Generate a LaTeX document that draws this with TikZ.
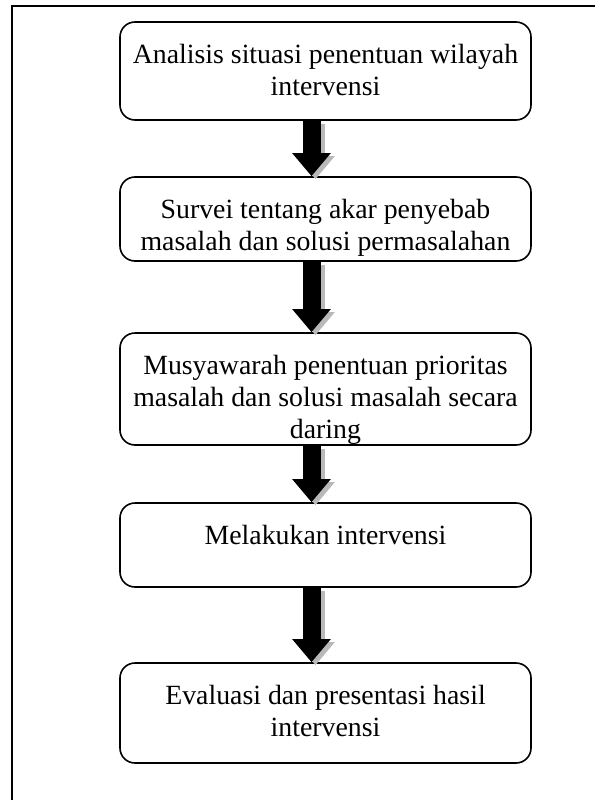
\documentclass[tikz,border=0pt]{standalone}
\usepackage{fontspec}
\setmainfont{Liberation Serif}
\usetikzlibrary{arrows.meta, positioning}

\tikzset{
	stepbox/.style={draw, line width=1.6pt, rounded corners=15pt,
		minimum width=411pt, inner sep=0pt},
	boxtext/.style={align=center, inner sep=0pt, font=\fontsize{27.8}{32}\selectfont},
	blockarrow/.style={line width=18pt, -{Triangle[width=37pt,length=23pt]}},
	shadowarrow/.style={blockarrow, gray!55}
}

\begin{document}
\begin{tikzpicture}[x=1pt, y=-1pt]
	% page
	\useasboundingbox (0,0) rectangle (595,800);
	\draw[line width=2pt] (595,6) -| (12,800);
	
	% kotak
	\node[stepbox, minimum height=98pt] (analisis) at (325.5,71) {};
	\node[stepbox, minimum height=84pt] (survei) at (325.5,219) {};
	\node[stepbox, minimum height=112pt] (musyawarah) at (325.5,389) {};
	\node[stepbox, minimum height=84pt] (intervensi) at (325.5,545) {};
	\node[stepbox, minimum height=100pt] (evaluasi) at (325.5,713) {};
	
	% teks
	\node[boxtext, below=22.5pt of analisis.north] (analisis-teks)
		{Analisis situasi penentuan wilayah\\intervensi};
	\node[boxtext, below=22.5pt of survei.north] (survei-teks)
		{Survei tentang akar penyebab\\masalah dan solusi permasalahan};
	\node[boxtext, below=22.5pt of musyawarah.north] (musyawarah-teks)
		{Musyawarah penentuan prioritas\\masalah dan solusi masalah secara\\daring};
	\node[boxtext, below=22.5pt of intervensi.north] (intervensi-teks)
		{Melakukan intervensi};
	\node[boxtext, below=22.5pt of evaluasi.north] (evaluasi-teks)
		{Evaluasi dan presentasi hasil\\intervensi};
	
	% panah
	\foreach \a/\b in {analisis/survei, survei/musyawarah, musyawarah/intervensi, intervensi/evaluasi}{
		\draw[shadowarrow] ([shift={(-10,3)}]\a.south) -- ([shift={(-10,3)}]\a.south |- \b.north);
		\draw[blockarrow] ([xshift=-14pt]\a.south) -- ([xshift=-14pt]\a.south |- \b.north);
	}
\end{tikzpicture}
\end{document}
